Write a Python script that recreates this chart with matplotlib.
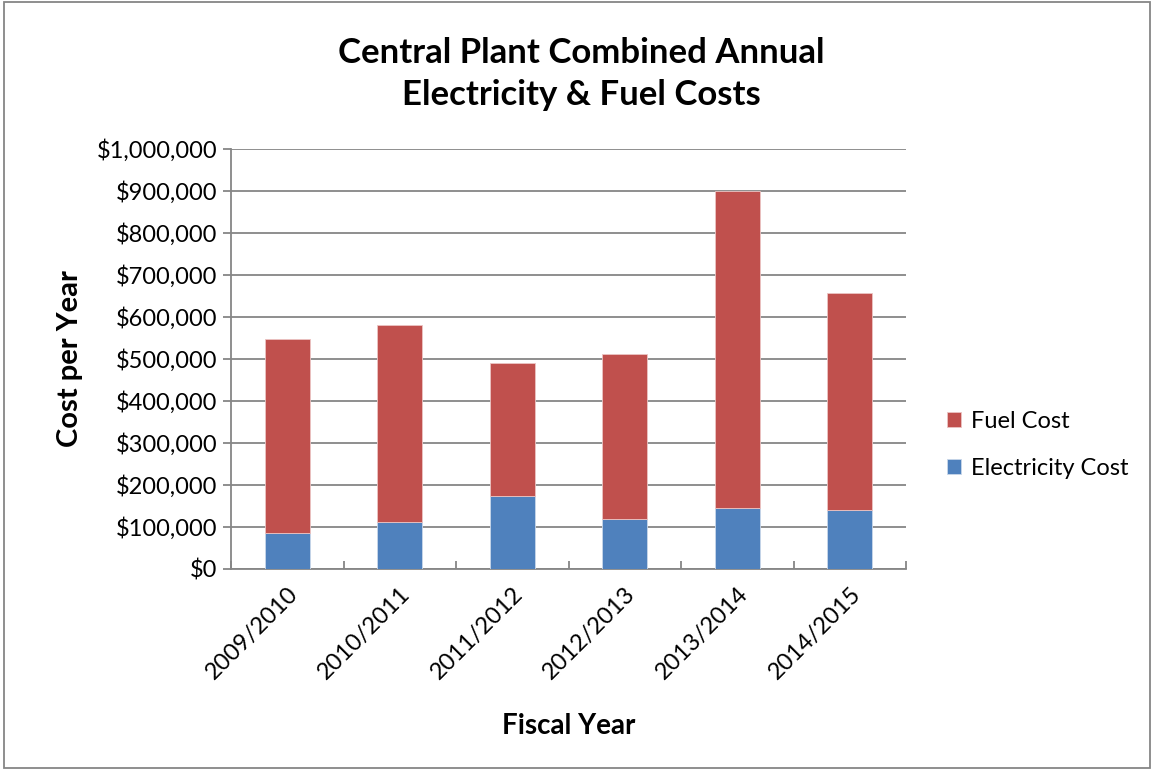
import matplotlib.pyplot as plt
from matplotlib.patches import Rectangle
from matplotlib.ticker import FuncFormatter
import numpy as np

# Fiscal years and cost split (USD)
years = ['2009/2010', '2010/2011', '2011/2012', '2012/2013', '2013/2014', '2014/2015']
electricity_cost = [85000, 113000, 175000, 119000, 146000, 141000]
fuel_cost = [462000, 467000, 315000, 394000, 754000, 517000]

plt.rcParams['font.family'] = ['Lato', 'DejaVu Sans']

fig = plt.figure(figsize=(11.52, 7.7), dpi=100)
ax = fig.add_axes([231 / 1152, 1 - 569 / 770, 675 / 1152, 420 / 770])

x = np.arange(len(years))
elec_bars = ax.bar(x, electricity_cost, width=0.4, color='#4f81bd',
                   edgecolor='#c9d7ea', linewidth=0.6, label='Electricity Cost', zorder=3)
fuel_bars = ax.bar(x, fuel_cost, width=0.4, bottom=electricity_cost, color='#c0504d',
                   edgecolor='#ecc4c3', linewidth=0.6, label='Fuel Cost', zorder=3)

ax.set_xlim(-0.5, len(years) - 0.5)
ax.set_ylim(0, 1000000)
ax.set_yticks(np.arange(0, 1000001, 100000))
ax.yaxis.set_major_formatter(FuncFormatter(lambda v, _: f'${v:,.0f}'))
ax.grid(axis='y', color='#868686', linewidth=1.3, zorder=0)

# category separators as tick marks on the x axis
ax.set_xticks(np.arange(-0.5, len(years), 1.0))
ax.set_xticklabels([])
ax.set_xticks(x, minor=True)
ax.set_xticklabels(years, minor=True, rotation=45, ha='right', rotation_mode='anchor', fontsize=17)
ax.tick_params(axis='x', which='minor', length=0, pad=10)
ax.tick_params(axis='x', which='major', length=6, direction='in', color='#868686', width=1.3)
ax.tick_params(axis='y', length=6, direction='out', color='#868686', width=1.3, labelsize=17, pad=4)

for side in ['top', 'right']:
    ax.spines[side].set_visible(False)
for side in ['left', 'bottom']:
    ax.spines[side].set_color('#868686')
    ax.spines[side].set_linewidth(1.3)

ax.set_ylabel('Cost per Year', fontsize=21, fontweight='bold', labelpad=10)
ax.set_xlabel('Fiscal Year', fontsize=20, fontweight='bold', labelpad=22)

fig.text(581 / 1152, 1 - 74 / 770, 'Central Plant Combined Annual\nElectricity & Fuel Costs',
         ha='center', va='center', fontsize=25, fontweight='bold', linespacing=1.4)

handles = [fuel_bars, elec_bars]
fig.legend(handles, ['Fuel Cost', 'Electricity Cost'], loc='center left',
           bbox_to_anchor=(926 / 1152, 1 - 445 / 770), frameon=False, fontsize=17,
           handlelength=0.6, handleheight=0.6, handletextpad=0.4, labelspacing=1.1)

# chart area border
fig.patches.append(Rectangle((4 / 1152, 0.003), 1 - 6 / 1152, 0.995, transform=fig.transFigure,
                             fill=False, edgecolor='#868686', linewidth=1.3))

fig.savefig('out.png', dpi=100)
